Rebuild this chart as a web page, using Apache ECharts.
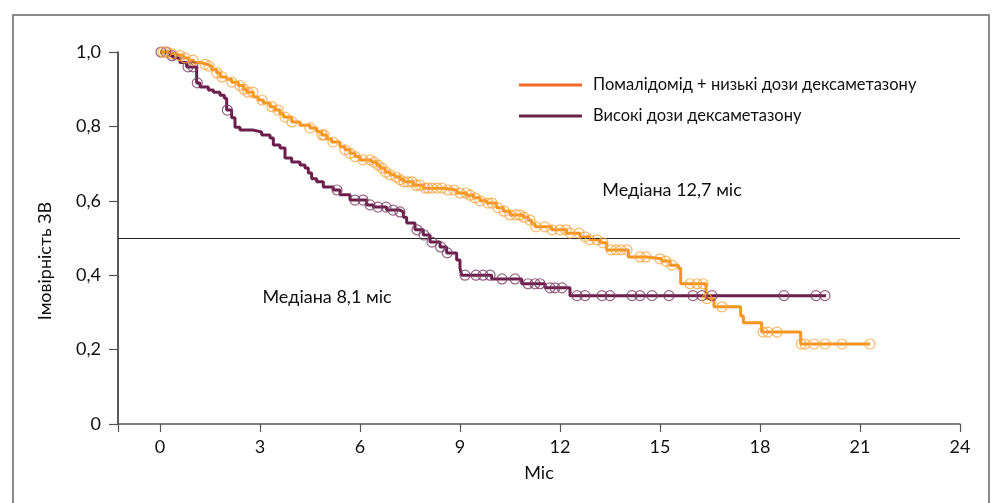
<!DOCTYPE html>
<html><head><meta charset="utf-8">
<script src="https://cdn.jsdelivr.net/npm/echarts@6/dist/echarts.min.js"></script>
<style>html,body{margin:0;padding:0;background:#fff}#c{width:999px;height:503px}</style>
</head><body><div id="c"></div>
<script>
const seriesNames = ['Помалідомід + низькі дози дексаметазону', 'Високі дози дексаметазону'];
const xTicks = [0, 3, 6, 9, 12, 15, 18, 21, 24];
const yTicks = [0, 0.2, 0.4, 0.6, 0.8, 1.0];
const medianLevel = 0.5;
const medianTexts = ['Медіана 12,7 міс', 'Медіана 8,1 міс'];

// Помалідомід + низькі дози дексаметазону: [місяць, ймовірність]
const pomSteps = [[0,1.0],[0.25,0.995],[0.45,0.99],[0.7,0.984],[0.85,0.978],[1.0,0.972],[1.2,0.967],[1.4,0.962],
  [1.55,0.952],[1.7,0.944],[1.8,0.933],[2.0,0.927],[2.15,0.919],[2.35,0.91],[2.5,0.9],[2.6,0.892],[2.8,0.879],
  [2.95,0.871],[3.1,0.863],[3.3,0.853],[3.45,0.844],[3.6,0.834],[3.7,0.825],[3.95,0.812],[4.2,0.803],[4.5,0.796],
  [4.7,0.786],[4.85,0.777],[5.0,0.766],[5.15,0.758],[5.4,0.745],[5.55,0.737],[5.7,0.728],[5.85,0.719],[6.0,0.71],
  [6.35,0.704],[6.5,0.696],[6.6,0.688],[6.75,0.677],[6.9,0.67],[7.05,0.664],[7.2,0.657],[7.3,0.651],[7.6,0.642],
  [7.9,0.634],[8.5,0.629],[8.9,0.621],[9.2,0.615],[9.4,0.608],[9.6,0.6],[9.8,0.594],[10.1,0.581],[10.3,0.572],
  [10.5,0.562],[10.9,0.556],[11.05,0.548],[11.15,0.538],[11.25,0.53],[11.75,0.522],[12.2,0.513],[12.6,0.503],
  [12.9,0.495],[13.2,0.487],[13.4,0.468],[14.05,0.449],[14.6,0.444],[15.05,0.438],[15.3,0.427],[15.55,0.419],
  [15.62,0.377],[16.38,0.337],[16.62,0.315],[17.42,0.29],[17.5,0.272],[18.05,0.247],[19.22,0.215],[21.3,0.215]];
const pomCensor = [0.09,0.21,0.36,0.6,0.75,0.99,1.35,1.47,1.71,1.86,2.16,2.4,2.52,2.64,2.79,3.06,3.36,3.54,3.75,3.96,
  4.5,4.86,4.92,5.19,5.55,5.7,5.85,6.09,6.3,6.42,6.54,6.66,6.78,6.9,7.08,7.2,7.32,7.44,7.56,7.68,7.8,7.95,8.04,8.16,
  8.31,8.46,8.64,8.82,9.0,9.18,9.3,9.45,9.6,9.84,9.96,10.14,10.32,10.5,10.68,10.8,10.92,11.1,11.28,11.55,11.76,12.0,
  12.18,12.3,12.57,12.75,12.9,13.11,13.29,13.53,13.68,13.83,14.01,14.4,14.58,15.0,15.18,15.36,15.9,16.11,16.29,
  16.41,16.86,18.09,18.24,18.51,19.24,19.35,19.62,19.95,20.46,21.3];

// Високі дози дексаметазону
const hdSteps = [[0,1.0],[0.3,0.99],[0.4,0.984],[0.6,0.972],[0.8,0.96],[1.1,0.917],[1.2,0.906],[1.45,0.898],
  [1.6,0.892],[1.8,0.884],[1.93,0.876],[2.0,0.844],[2.15,0.823],[2.25,0.798],[2.4,0.79],[2.8,0.785],[3.05,0.777],
  [3.3,0.769],[3.4,0.75],[3.6,0.742],[3.75,0.715],[3.95,0.704],[4.2,0.696],[4.35,0.688],[4.45,0.675],[4.55,0.659],
  [4.7,0.651],[4.9,0.637],[5.2,0.629],[5.4,0.616],[5.7,0.602],[6.2,0.589],[6.4,0.583],[6.8,0.575],[7.2,0.57],
  [7.3,0.556],[7.4,0.54],[7.65,0.522],[7.9,0.508],[8.1,0.489],[8.4,0.476],[8.6,0.46],[8.9,0.441],[9.0,0.419],
  [9.05,0.4],[9.95,0.39],[10.85,0.377],[11.55,0.366],[12.3,0.345],[19.98,0.345]];
const hdCensor = [0.03,0.18,0.36,0.84,0.99,1.12,2.02,5.31,5.85,6.09,6.3,6.54,6.78,6.99,7.2,7.71,7.92,8.16,8.42,8.62,
  9.15,9.48,9.69,9.9,10.26,10.65,11.04,11.25,11.4,11.7,11.85,12.06,12.51,12.75,13.26,13.5,14.16,14.4,14.76,15.27,
  15.99,16.26,16.56,18.72,19.68,19.95];

function survivalAt(steps, t) {
  let s = steps[0][1];
  for (const p of steps) { if (p[0] <= t) s = p[1]; else break; }
  return s;
}
const pomCensorPts = pomCensor.map(t => [t, survivalAt(pomSteps, t)]);
const hdCensorPts = hdCensor.map(t => [t, survivalAt(hdSteps, t)]);

const FONT = 'Lato';
const chart = echarts.init(document.getElementById('c'), null, {renderer: 'canvas'});
chart.setOption({
  animation: false,
  backgroundColor: '#fff',
  grid: {left: 118, right: 39, top: 52, bottom: 79, containLabel: false},
  xAxis: {
    type: 'value', min: -1.26, max: 24,
    name: 'Міс', nameLocation: 'middle', nameGap: 40,
    nameTextStyle: {fontFamily: FONT, fontSize: 18, color: '#111'},
    axisLine: {show: true, onZero: false, lineStyle: {color: '#555', width: 1.5}},
    axisTick: {show: true, length: 8, lineStyle: {color: '#555', width: 1.2}, customValues: [-1.26].concat(xTicks)},
    axisLabel: {customValues: xTicks, margin: 14, fontFamily: FONT, fontSize: 18, color: '#111'},
    splitLine: {show: false}
  },
  yAxis: {
    type: 'value', min: 0, max: 1, interval: 0.2,
    axisLine: {show: true, onZero: false, lineStyle: {color: '#222', width: 1.5}},
    axisTick: {show: true, length: 9, lineStyle: {color: '#555', width: 1.2}},
    axisLabel: {margin: 17, fontFamily: FONT, fontSize: 18, color: '#111',
      formatter: v => v === 0 ? '0' : v.toFixed(1).replace('.', ',')},
    splitLine: {show: false}
  },
  legend: {
    show: true, orient: 'vertical', left: 514, top: 70, icon: 'rect',
    itemWidth: 63, itemHeight: 3, itemGap: 11,
    textStyle: {fontFamily: FONT, fontSize: 16.5, color: '#111', lineHeight: 20, padding: [0, 0, 0, 6]},
    data: [
      {name: seriesNames[0], itemStyle: {color: '#F26B2A'}},
      {name: seriesNames[1], itemStyle: {color: '#6B2449'}}
    ]
  },
  graphic: [
    {type: 'rect', shape: {x: 13, y: 15, width: 976, height: 520}, style: {fill: 'none', stroke: '#666', lineWidth: 1.5}, silent: true},
    {type: 'text', x: 45, y: 261, rotation: Math.PI / 2, style: {text: 'Імовірність ЗВ', fontFamily: FONT, fontSize: 18, fill: '#111', align: 'center', verticalAlign: 'middle'}},
    {type: 'text', x: 672, y: 190, style: {text: medianTexts[0], fontFamily: FONT, fontSize: 18, fill: '#111', align: 'center', verticalAlign: 'middle'}},
    {type: 'text', x: 327, y: 297, style: {text: medianTexts[1], fontFamily: FONT, fontSize: 18, fill: '#111', align: 'center', verticalAlign: 'middle'}}
  ],
  series: [
    {
      name: seriesNames[1], type: 'line', step: 'end', data: hdSteps, showSymbol: false, symbol: 'none',
      lineStyle: {color: '#6B1F4A', width: 3}, itemStyle: {color: '#6B2449'}, z: 3,
      markLine: {silent: true, symbol: 'none', label: {show: false},
        lineStyle: {color: '#222', width: 1.2, type: 'solid'}, data: [{yAxis: medianLevel}]}
    },
    {
      name: seriesNames[0], type: 'line', step: 'end', data: pomSteps, showSymbol: false, symbol: 'none',
      lineStyle: {color: '#F7941D', width: 3}, itemStyle: {color: '#F26B2A'}, z: 4
    },
    {
      name: 'hdCensor', type: 'scatter', data: hdCensorPts, symbol: 'circle', symbolSize: 10,
      itemStyle: {color: 'rgba(255,255,255,0)', borderColor: '#7A3A64', borderWidth: 1.2}, z: 5
    },
    {
      name: 'pomCensor', type: 'scatter', data: pomCensorPts, symbol: 'circle', symbolSize: 10,
      itemStyle: {color: 'rgba(255,255,255,0)', borderColor: '#F9A43F', borderWidth: 1.2}, z: 6
    }
  ]
});
</script>
</body></html>
